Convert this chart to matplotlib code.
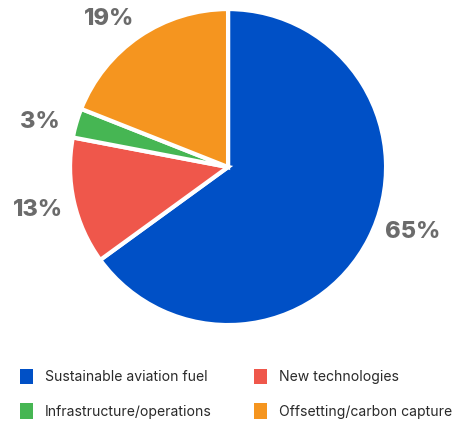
import matplotlib.pyplot as plt
from matplotlib.patches import Patch

# --- Data ---
categories = ['Sustainable aviation fuel', 'New technologies',
              'Infrastructure/operations', 'Offsetting/carbon capture']
shares = [65, 13, 3, 19]
colors = ['#0050C6', '#EF574B', '#46B653', '#F5951F']

# label anchor points in pie units (radius = 1)
label_pos = [(1.17, -0.41), (-1.20, -0.27), (-1.19, 0.285), (-0.75, 0.94)]

plt.rcParams['font.family'] = ['Inter', 'DejaVu Sans']

fig = plt.figure(figsize=(4.64, 4.30), dpi=100)
ax = fig.add_axes([0.151, 0.244, 0.681, 0.735])

ax.pie(shares, colors=colors, startangle=90, counterclock=False, radius=1,
       wedgeprops=dict(edgecolor='white', linewidth=3))
ax.set_xlim(-1.0, 1.0)
ax.set_ylim(-1.0, 1.0)
ax.set_aspect('equal')
ax.axis('off')

for val, (x, y) in zip(shares, label_pos):
    ax.text(x, y, f'{val}%', ha='center', va='center', fontsize=17,
            fontweight='heavy', color='#6B6B6B', clip_on=False)

# Legend: two rows, two columns
handles = [Patch(facecolor=c, edgecolor='none') for c in colors]
order = [0, 2, 1, 3]
fig.legend([handles[i] for i in order], [categories[i] for i in order],
           loc='upper left', bbox_to_anchor=(0.03, 0.155), ncol=2,
           frameon=False, fontsize=10.1, handlelength=0.95, handleheight=1.3,
           handletextpad=0.85, columnspacing=3.0, labelspacing=1.35,
           labelcolor='#2A2A2A', borderaxespad=0)

fig.savefig('out.png', dpi=100)
